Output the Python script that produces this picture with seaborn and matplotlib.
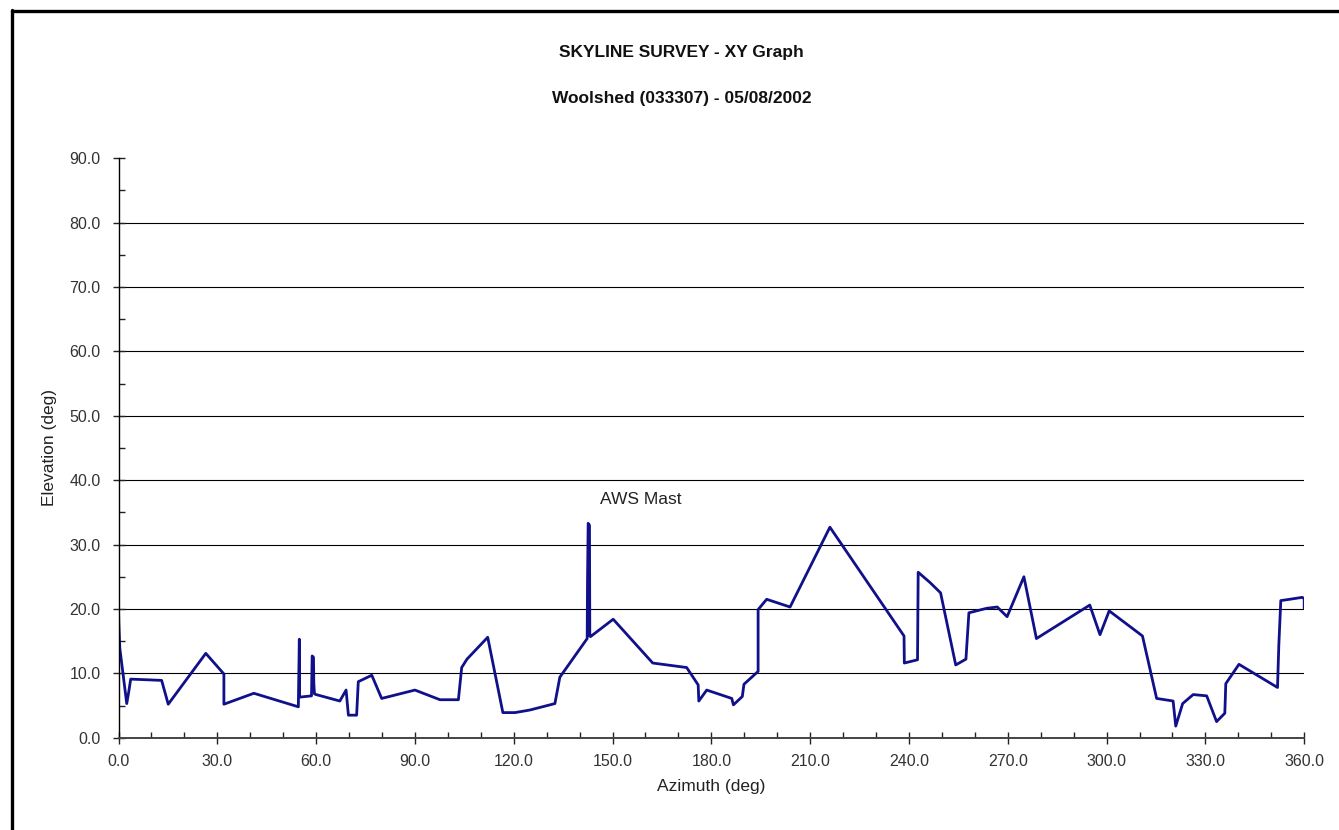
import numpy as np
import pandas as pd
import matplotlib
matplotlib.use('Agg')
import matplotlib.pyplot as plt
import seaborn as sns
from matplotlib.ticker import MultipleLocator, FormatStrFormatter
from matplotlib.lines import Line2D

# skyline trace (azimuth deg, elevation deg)
azimuth = [0.0, 0.1, 0.4, 2.5, 3.1, 3.7, 8.6, 13.1, 15.1, 26.5, 32.0, 32.0,
           41.1, 54.6, 54.9, 55.0, 58.6, 58.8, 59.2, 59.3, 59.5, 60.0, 67.2,
           69.1, 69.8, 72.3, 72.8, 76.9, 79.9, 90.0, 97.6, 103.2, 104.2, 105.8,
           112.1, 116.7, 120.4, 124.9, 132.5, 134.0, 142.3, 142.4, 142.6, 143.0,
           143.1, 143.3, 150.2, 162.2, 172.5, 176.0, 176.2, 178.6, 186.2, 186.7,
           189.4, 189.9, 194.2, 194.2, 196.8, 203.9, 216.0, 238.5, 238.6, 242.6,
           242.8, 246.4, 249.6, 254.2, 257.3, 258.2, 263.6, 266.8, 269.8, 274.9,
           278.7, 294.9, 298.0, 300.8, 310.9, 315.2, 320.2, 321.0, 323.1, 326.3,
           330.4, 333.4, 335.9, 336.2, 340.2, 351.9, 352.3, 352.9, 355.6, 359.4,
           360.0, 360.0]
elevation = [20.0, 17.8, 13.9, 5.3, 7.1, 9.1, 9.0, 8.9, 5.2, 13.1, 9.9, 5.2,
             6.9, 4.8, 15.3, 6.3, 6.5, 12.7, 12.5, 8.5, 6.8, 6.7, 5.7,
             7.4, 3.5, 3.5, 8.7, 9.7, 6.1, 7.4, 5.9, 5.9, 10.9, 12.2,
             15.6, 3.9, 3.9, 4.3, 5.3, 9.4, 15.4, 24.2, 33.3, 33.0,
             15.8, 15.7, 18.4, 11.6, 10.9, 8.2, 5.7, 7.4, 6.1, 5.1,
             6.4, 8.3, 10.3, 19.9, 21.5, 20.3, 32.7, 15.8, 11.6, 12.1,
             25.7, 24.1, 22.5, 11.3, 12.2, 19.4, 20.1, 20.3, 18.8, 25.0,
             15.4, 20.6, 16.0, 19.7, 15.8, 6.1, 5.7, 1.8, 5.3, 6.7,
             6.5, 2.5, 3.8, 8.4, 11.4, 7.8, 14.4, 21.3, 21.5, 21.8,
             21.6, 20.1]

title1 = 'SKYLINE SURVEY - XY Graph'
title2 = 'Woolshed (033307) - 05/08/2002'
note = 'AWS Mast'

df = pd.DataFrame({'Azimuth': azimuth, 'Elevation': elevation})

sns.set_style('white')
plt.rcParams['font.family'] = ['Liberation Sans', 'DejaVu Sans']

fig = plt.figure(figsize=(13.39, 8.30), dpi=100)
ax = fig.add_axes([0.0885, 0.1112, 0.8855, 0.6981])

sns.lineplot(data=df, x='Azimuth', y='Elevation', sort=False, estimator=None,
             color='#10108a', linewidth=2.0, ax=ax)

ax.set_xlim(0, 360)
ax.set_ylim(0, 90)
ax.xaxis.set_major_locator(MultipleLocator(30))
ax.xaxis.set_minor_locator(MultipleLocator(10))
ax.yaxis.set_major_locator(MultipleLocator(10))
ax.yaxis.set_minor_locator(MultipleLocator(5))
ax.xaxis.set_major_formatter(FormatStrFormatter('%.1f'))
ax.yaxis.set_major_formatter(FormatStrFormatter('%.1f'))

# horizontal grid lines at 10..80
for v in range(10, 90, 10):
    ax.axhline(v, color='black', linewidth=0.8, zorder=0)

for side in ['top', 'right']:
    ax.spines[side].set_visible(False)
ax.spines['left'].set_color('black')
ax.spines['left'].set_linewidth(1.0)
ax.spines['bottom'].set_color('#444444')
ax.spines['bottom'].set_linewidth(1.4)

ax.tick_params(axis='x', which='both', bottom=True, top=False)
ax.tick_params(axis='y', which='both', left=True, right=False)
ax.tick_params(axis='both', which='major', direction='inout', length=8,
               width=1.0, colors='#222222', labelsize=11.5, labelcolor='#333333')
ax.tick_params(axis='both', which='minor', direction='in', length=4,
               width=1.0, colors='#222222')
ax.tick_params(axis='x', which='major', pad=8)
ax.tick_params(axis='y', which='major', pad=9)

ax.set_xlabel('Azimuth (deg)', fontsize=12.5, color='#222222', labelpad=7)
ax.set_ylabel('Elevation (deg)', fontsize=12.5, color='#222222', labelpad=9)

ax.text(146.2, 37.0, note, fontsize=12.5, color='#222222', va='center', ha='left')

fig.text(0.509, 1 - 52 / 830, title1, ha='center', va='center',
         fontsize=12.5, fontweight='bold', color='#111111')
fig.text(0.509, 1 - 99 / 830, title2, ha='center', va='center',
         fontsize=12.5, fontweight='bold', color='#111111')

# black frame (top and left edges visible)
fig.add_artist(Line2D([11.5 / 1339, 1.0], [1 - 11.5 / 830, 1 - 11.5 / 830],
                      transform=fig.transFigure, color='black', linewidth=2.4))
fig.add_artist(Line2D([11.5 / 1339, 11.5 / 1339], [1 - 10 / 830, 0.0],
                      transform=fig.transFigure, color='black', linewidth=2.4))

fig.savefig('out.png', dpi=100)
